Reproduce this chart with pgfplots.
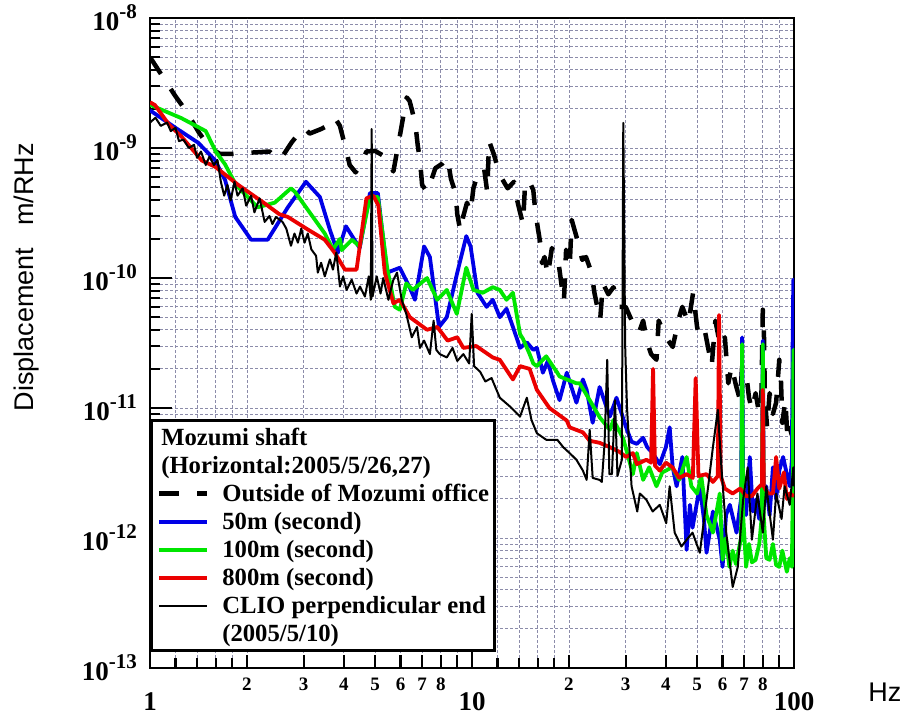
\documentclass[border=0pt]{standalone}
\usepackage{fontspec}
\setmainfont{Liberation Serif}
\setsansfont{Liberation Sans}
\usepackage{pgfplots}
\pgfplotsset{compat=1.18}

\definecolor{gridc}{RGB}{140,140,170}
\definecolor{b50}{RGB}{0,0,230}
\definecolor{g100}{RGB}{0,230,0}
\definecolor{r800}{RGB}{235,0,0}

% power-of-ten tick label with a raised exponent
\newcommand{\tenexp}[1]{10\raisebox{12pt}{\fontsize{21}{21}\selectfont #1}}

\begin{document}
\begin{tikzpicture}
\useasboundingbox (0,0) rectangle (909pt,720pt);
\begin{axis}[
  at={(150pt,52pt)}, anchor=south west,
  scale only axis, width=644pt, height=650pt,
  xmode=log, ymode=log,
  xmin=1, xmax=100, ymin=1e-13, ymax=1e-8,
  axis line style={line width=2.5pt},
  tick align=inside, xtick pos=left, ytick pos=left,
  every tick/.style={black, line width=2.2pt},
  major tick length=22pt, minor tick length=10pt,
  xtick={1,10,100}, xticklabels={1,10,100},
  minor xtick={1.2,1.4,1.6,1.8,12,14,16,18},
  extra x ticks={2,3,4,5,6,7,8,9,20,30,40,50,60,70,80,90},
  extra x tick labels={2,3,4,5,6,7,8,,2,3,4,5,6,7,8,},
  extra x tick style={grid=major, major tick length=13pt,
    tick label style={font=\fontsize{19}{19}\selectfont\bfseries, yshift=14pt}},
  xticklabel style={anchor=north, inner sep=0pt, yshift=-24pt},
  ytick={1e-13,1e-12,1e-11,1e-10,1e-9,1e-8},
  yticklabels={\tenexp{-13},\tenexp{-12},\tenexp{-11},\tenexp{-10},\tenexp{-9},\tenexp{-8}},
  minor ytick={2e-13,3e-13,4e-13,5e-13,6e-13,7e-13,8e-13,9e-13,
               2e-12,3e-12,4e-12,5e-12,6e-12,7e-12,8e-12,9e-12,
               2e-11,3e-11,4e-11,5e-11,6e-11,7e-11,8e-11,9e-11,
               2e-10,3e-10,4e-10,5e-10,6e-10,7e-10,8e-10,9e-10,
               2e-9,3e-9,4e-9,5e-9,6e-9,7e-9,8e-9,9e-9},
  yticklabel style={anchor=east, inner sep=0pt, xshift=-13pt},
  tick label style={font=\fontsize{27}{27}\selectfont\bfseries},
  grid=both,
  major grid style={gridc, line width=0.8pt, dash pattern=on 3pt off 2pt},
  minor grid style={gridc, line width=0.8pt, dash pattern=on 3pt off 2pt},
  ylabel={Displacement\hspace{22pt}m/RHz},
  ylabel style={font=\fontsize{27}{27}\selectfont\sffamily,
    at={(axis description cs:-0.191,0.6015)}, anchor=center},
  xlabel={Hz},
  xlabel style={font=\fontsize{27}{27}\selectfont\sffamily,
    at={(axis description cs:1.141,-0.037)}, anchor=center},
  legend style={at={(axis description cs:0,0.0246)}, anchor=south west,
    draw=black, line width=2.6pt, fill=white,
    font=\fontsize{24.7}{28}\selectfont\bfseries,
    inner xsep=5.5pt, inner ysep=4pt, row sep=2pt, column sep=13pt,
    nodes={inner sep=0pt, text height=21pt, text depth=5pt}},
  legend cell align=left,
  legend image code/.code={\draw[#1] (0pt,0pt) -- (48pt,0pt);},
  every axis plot/.append style={line join=round},
]
\addlegendimage{empty legend}
\addlegendentry{\hspace*{-61pt}Mozumi shaft}
\addlegendimage{empty legend}
\addlegendentry{\hspace*{-61pt}(Horizontal:2005/5/26,27)}

% outside of the Mozumi office
\addplot[black, line width=4.5pt, dash pattern=on 20pt off 18pt] coordinates {
(1,5.0e-9) (1.09,3.6e-9) (1.2,2.5e-9) (1.3,1.9e-9) (1.42,1.31e-9) (1.54,1.0e-9)
(1.65,9.0e-10) (1.78,9.0e-10) (2.03,9.2e-10) (2.2,9.3e-10) (2.35,9.4e-10)
(2.52,8.1e-10) (2.6,8.9e-10) (2.75,1.1e-9) (2.88,1.27e-9) (3.02,1.43e-9)
(3.13,1.29e-9) (3.4,1.4e-9) (3.62,1.52e-9) (3.75,1.71e-9) (3.89,1.48e-9)
(4.05,1.0e-9) (4.17,7.4e-10) (4.35,6.5e-10) (4.51,7.4e-10) (4.7,9.4e-10)
(5.0,9.5e-10) (5.36,8.6e-10) (5.7,6.6e-10) (5.85,9.4e-10) (5.99,1.3e-9)
(6.13,1.8e-9) (6.27,2.45e-9) (6.4,2.3e-9) (6.52,1.93e-9) (6.68,1.48e-9)
(6.78,1.06e-9) (6.9,7.9e-10) (7.0,5.2e-10) (7.25,4.6e-10) (7.5,5.8e-10)
(7.7,7.0e-10) (8.1,7.6e-10) (8.4,8.4e-10) (8.6,5.8e-10) (8.9,4.45e-10)
(9.0,3.1e-10) (9.2,2.3e-10) (9.4,3.0e-10) (9.65,3.8e-10) (9.9,3.2e-10)
(10.1,4.9e-10) (10.4,6.2e-10) (10.9,7.0e-10) (11.15,4.6e-10) (11.3,1.13e-9)
(11.7,8.9e-10) (12.2,6.2e-10) (12.9,4.9e-10) (13.5,5.5e-10) (13.8,4.0e-10)
(14.1,3.2e-10) (14.4,2.6e-10) (14.6,5.0e-10) (15.0,5.7e-10) (15.5,4.75e-10)
(15.7,3.4e-10) (16.0,2.45e-10) (16.3,1.85e-10) (16.5,1.3e-10) (16.8,1.45e-10)
(17.2,1.05e-10) (17.7,1.7e-10) (18.5,1.4e-10) (19.0,8.6e-11) (19.3,6.6e-11)
(19.6,1.65e-10) (20.1,1.2e-10) (20.4,2.8e-10) (21.2,2.0e-10) (22.0,1.38e-10)
(22.6,1.45e-10) (23.5,1.1e-10) (24.0,7.7e-11) (24.5,6.0e-11) (25.0,4.75e-11)
(25.5,9.1e-11) (26.5,7.5e-11) (27.5,8.5e-11) (28.7,6.0e-11) (30.0,6.0e-11)
(31.0,5.0e-11) (32.0,4.2e-11) (33.0,3.8e-11) (34.0,4.7e-11) (35.0,3.2e-11)
(36.0,2.6e-11) (37.4,2.35e-11) (38.0,4.7e-11) (40.0,3.5e-11) (42.0,2.95e-11)
(44.0,5.0e-11) (45.0,6.0e-11) (47.0,4.5e-11) (48.6,7.7e-11) (50.0,4.2e-11)
(51.0,3.4e-11) (53.0,3.8e-11) (55.5,2.1e-11) (57.0,4.7e-11) (59.0,3.0e-11)
(61.0,3.5e-11) (62.5,1.55e-11) (64.0,2.1e-11) (66.0,1.5e-11) (68.0,1.15e-11)
(69.0,2.1e-11) (71.0,1.87e-11) (72.5,1.2e-11) (74.0,9.7e-12) (76.0,1.3e-11)
(78.0,9.0e-12) (79.2,1.2e-11) (80.0,5.7e-11) (80.6,4.2e-11) (81.2,1.2e-11)
(82.5,7.1e-12) (84.0,1.3e-11) (86.0,9.0e-12) (88.0,1.1e-11) (90.0,2.35e-11)
(91.0,1.75e-11) (92.0,7.7e-12) (94.0,1.15e-11) (95.5,5.7e-12) (97.0,7.0e-12)
(100,5.5e-12)
};
\addlegendentry{Outside of Mozumi office}

% 50 m depth
\addplot[b50, line width=3.8pt] coordinates {
(1,1.95e-9) (1.2,1.43e-9) (1.41,1.1e-9) (1.59,8.1e-10) (1.71,5.7e-10)
(1.84,2.95e-10) (2.06,1.97e-10) (2.32,1.97e-10) (2.68,3.5e-10) (3.05,5.5e-10)
(3.37,4.2e-10) (3.62,2.35e-10) (3.83,1.56e-10) (4.06,2.5e-10) (4.48,1.7e-10)
(4.82,4.5e-10) (5.1,4.5e-10) (5.45,1.1e-10) (5.97,1.2e-10) (6.4,8.5e-11)
(6.65,6.8e-11) (7.1,1.75e-10) (7.4,1.45e-10) (7.9,4.2e-11) (8.35,5.0e-11)
(9.0,1.1e-10) (9.6,2.1e-10) (9.9,1.75e-10) (10.4,7.7e-11) (11.1,6.0e-11)
(11.6,6.8e-11) (12.2,5.0e-11) (12.8,5.8e-11) (13.4,4.2e-11) (14.1,2.9e-11)
(14.8,3.2e-11) (15.5,2.8e-11) (15.9,2.9e-11) (16.6,1.87e-11) (17.2,2.3e-11)
(17.8,1.66e-11) (18.7,1.15e-11) (19.7,1.87e-11) (21.1,1.1e-11) (22.1,1.66e-11)
(22.7,1.38e-11) (23.7,7.7e-12) (24.9,1.45e-11) (26.8,8.6e-12) (28.1,1.2e-11)
(30.1,7.1e-12) (31.3,5.5e-12) (32.5,5.3e-12) (34,5.9e-12) (35,5.0e-12)
(36.4,4.5e-12) (38.3,3.7e-12) (40,5.0e-12) (41.1,7.1e-12) (42,3.5e-12)
(43.2,2.5e-12) (45,4.2e-12) (46.4,8.1e-13) (47.5,1.8e-12) (48.4,1.2e-12)
(51,2.5e-12) (52.5,1.4e-12) (53.5,7.7e-13) (56,1.6e-12) (58.8,9.7e-13)
(60,6.0e-13) (61.5,1.5e-12) (63.2,1.8e-12) (66.3,1.1e-12) (68.5,2.0e-12)
(69,3.5e-11) (69.5,2.5e-12) (71,1.5e-12) (72.9,4.2e-12) (74.5,1.6e-12)
(76,1.97e-12) (78,1.4e-12) (79.5,2.2e-12) (80,3.3e-11) (80.5,2.5e-12)
(82,2.5e-12) (84,1.5e-12) (86,3.5e-12) (88,2.0e-12) (90,3.3e-12)
(92.5,4.2e-12) (95,3.1e-12) (97,2.5e-12) (98.5,4.0e-12) (99,3.0e-11)
(99.5,9.7e-11) (100,9.7e-11)
};
\addlegendentry{50m (second)}

% 100 m depth
\addplot[g100, line width=3.8pt] coordinates {
(1,2.15e-9) (1.25,1.7e-9) (1.49,1.35e-9) (1.6,9.4e-10) (1.71,7.5e-10)
(1.85,5.2e-10) (2.16,3.5e-10) (2.44,3.8e-10) (2.74,4.9e-10) (2.82,4.6e-10)
(3.16,3.1e-10) (3.49,2.2e-10) (3.7,1.66e-10) (3.89,2.0e-10) (3.94,1.64e-10)
(4.24,1.97e-10) (4.48,1.75e-10) (4.82,4.2e-10) (5.1,4.2e-10) (5.45,1.2e-10)
(5.76,6.0e-11) (5.97,5.7e-11) (6.25,9.1e-11) (6.55,8.1e-11) (7.25,1.0e-10)
(7.8,6.8e-11) (8.35,8.1e-11) (8.97,5.3e-11) (9.6,1.2e-10) (10.1,8.1e-11)
(10.8,7.7e-11) (11.6,8.5e-11) (12.2,8.1e-11) (12.8,6.8e-11) (13.4,7.7e-11)
(14.1,3.7e-11) (14.4,3.4e-11) (15.1,2.6e-11) (15.5,2.2e-11) (15.9,2.1e-11)
(17,2.5e-11) (18.4,1.87e-11) (18.7,1.75e-11) (19.7,1.66e-11) (21.1,1.55e-11)
(21.6,1.55e-11) (23.2,1.15e-11) (24.9,8.5e-12) (26.8,6.8e-12) (27.5,8.1e-12)
(29.5,5.8e-12) (31.6,3.1e-12) (32.5,4.5e-12) (34,2.8e-12) (35.5,3.5e-12)
(37.4,2.5e-12) (39,3.2e-12) (41.9,3.5e-12) (44,2.8e-12) (46.4,4.2e-12)
(48,2.5e-12) (50,2.2e-12) (51.5,3.0e-12) (53.5,1.5e-12) (56,1.1e-12)
(58.8,2.2e-12) (60,6.8e-13) (61.5,1.0e-12) (63,6.0e-13) (64.5,8.0e-13)
(66,6.3e-13) (68.5,1.0e-12) (69,3.1e-11) (69.5,1.5e-12) (71,6.0e-13)
(72.5,9.0e-13) (74,6.5e-13) (76,6.8e-13) (78,9.0e-13) (79.5,1.5e-12)
(80,3.1e-11) (80.5,1.5e-12) (82,7.0e-13) (84,6.8e-13) (86,9.0e-13)
(88,6.2e-13) (90,6.0e-13) (92,8.0e-13) (95,5.5e-13) (97,7.0e-13)
(98.5,6.0e-13) (99.2,3.0e-12) (99.6,2.8e-11) (100,2.8e-11)
};
\addlegendentry{100m (second)}

% 800 m depth
\addplot[r800, line width=3.8pt] coordinates {
(1,2.25e-9) (1.036,2.14e-9) (1.144,1.52e-9) (1.25,1.23e-9) (1.45,8.0e-10)
(1.59,7.2e-10) (1.88,5.2e-10) (2.27,3.75e-10) (2.52,3.1e-10) (2.68,2.95e-10)
(3.1,2.35e-10) (3.49,1.97e-10) (3.75,1.56e-10) (4.03,1.16e-10) (4.38,1.16e-10)
(4.7,4.1e-10) (4.94,4.3e-10) (5.12,3.6e-10) (5.36,1.1e-10) (5.7,6.4e-11)
(5.97,6.8e-11) (6.41,5.0e-11) (7.25,4.0e-11) (7.8,4.2e-11) (8.4,3.3e-11)
(9.0,3.5e-11) (9.4,2.9e-11) (10.3,3.0e-11) (11.6,2.45e-11) (12.2,2.35e-11)
(13.1,1.8e-11) (13.4,1.66e-11) (14.1,2.1e-11) (15.1,2.0e-11) (15.9,1.38e-11)
(17.4,1.0e-11) (19.7,8.0e-12) (20.1,7.1e-12) (22.1,6.5e-12) (23.2,5.6e-12)
(24.9,5.4e-12) (26.8,5.0e-12) (28.7,4.6e-12) (30.1,4.2e-12) (31.6,4.5e-12)
(32.5,3.7e-12) (34.8,4.0e-12) (36.0,3.8e-12) (36.5,2.0e-11) (37.0,3.6e-12)
(38.3,3.3e-12) (40,3.8e-12) (41.9,3.5e-12) (44,2.9e-12) (46.4,3.1e-12)
(48.5,2.9e-12) (49.5,1.7e-11) (50.5,3.0e-12) (53.5,3.1e-12) (56,2.7e-12)
(58,3.0e-12) (58.5,5.2e-11) (59.2,3.0e-12) (61,2.4e-12) (64.5,2.2e-12)
(68,2.4e-12) (71,2.1e-12) (74,2.1e-12) (77,2.4e-12) (79.5,2.6e-12)
(80,1.38e-11) (80.6,2.5e-12) (83,2.2e-12) (86,2.2e-12) (88,4.2e-12)
(90,2.4e-12) (93,3.2e-12) (95,2.0e-12) (97,2.2e-12) (100,2.1e-12)
};
\addlegendentry{800m (second)}

% CLIO perpendicular end
\addplot[black, line width=2pt] coordinates {
(1,1.57e-9) (1.04,1.71e-9) (1.08,1.48e-9) (1.13,1.57e-9) (1.16,1.35e-9)
(1.2,1.43e-9) (1.23,1.13e-9) (1.27,1.16e-9) (1.32,1.0e-9) (1.37,1.06e-9)
(1.4,8.4e-10) (1.44,9.4e-10) (1.49,7.4e-10) (1.53,8.6e-10) (1.58,7.4e-10)
(1.62,8.1e-10) (1.66,5.5e-10) (1.7,4.3e-10) (1.74,5.2e-10) (1.78,3.95e-10)
(1.83,5.5e-10) (1.87,4.3e-10) (1.94,4.9e-10) (1.99,3.6e-10) (2.06,4.3e-10)
(2.11,3.2e-10) (2.19,4.1e-10) (2.27,2.7e-10) (2.35,3.0e-10) (2.4,2.6e-10)
(2.46,2.95e-10) (2.58,2.7e-10) (2.65,2.4e-10) (2.74,1.77e-10) (2.81,2.2e-10)
(2.88,1.87e-10) (2.95,2.4e-10) (3.02,1.87e-10) (3.09,2.2e-10) (3.17,1.66e-10)
(3.28,1.48e-10) (3.32,1.1e-10) (3.4,1.31e-10) (3.49,1.03e-10) (3.62,1.39e-10)
(3.7,1.16e-10) (3.79,1.57e-10) (3.89,8.6e-11) (3.98,1.03e-10) (4.08,8.1e-11)
(4.23,9.7e-11) (4.38,7.6e-11) (4.49,8.6e-11) (4.65,7.2e-11) (4.78,1.03e-10)
(4.85,6.8e-11) (4.88,1.4e-9) (4.91,7.2e-11) (5.06,1.03e-10) (5.2,7.6e-11)
(5.3,1.0e-10) (5.5,6.8e-11) (5.7,9.7e-11) (5.85,1.1e-10) (6.05,6.8e-11)
(6.25,5.3e-11) (6.5,3.5e-11) (6.75,4.2e-11) (6.89,2.9e-11) (7.1,3.3e-11)
(7.4,2.6e-11) (7.6,4.7e-11) (7.75,2.8e-11) (7.94,2.6e-11) (8.35,2.45e-11)
(8.7,2.9e-11) (9.0,2.3e-11) (9.4,2.6e-11) (9.8,2.2e-11) (9.98,5.3e-11)
(10.15,2.1e-11) (10.6,1.9e-11) (11.0,1.6e-11) (11.5,1.7e-11) (12.2,1.2e-11)
(13.1,1.03e-11) (14.1,8.6e-12) (14.8,1.2e-11) (15.3,8.1e-12) (15.9,6.4e-12)
(17.0,5.7e-12) (18.4,5.7e-12) (19.2,5.0e-12) (20.1,4.5e-12) (21.1,4.0e-12)
(22.1,3.3e-12) (22.7,2.8e-12) (23.2,6.8e-12) (23.7,2.9e-12) (24.9,2.8e-12)
(25.3,2.7e-12) (25.8,5.3e-12) (26.3,2.35e-11) (26.7,3.1e-12) (27.2,3.1e-12)
(27.8,1.15e-11) (28.3,3.0e-12) (29.2,4.0e-12) (29.5,1.56e-9) (29.9,3.0e-11)
(30.3,1.0e-11) (31.3,2.5e-12) (32.6,1.6e-12) (33.2,2.2e-12) (34.8,1.97e-12)
(36.4,1.6e-12) (38.3,1.8e-12) (40.1,1.3e-12) (41.1,2.5e-12) (42.6,1.1e-12)
(44.7,8.6e-13) (46.4,9.7e-13) (48.4,1.1e-12) (51,7.7e-13) (53.5,1.97e-12)
(56,5.0e-12) (58,9.7e-12) (59.5,3.5e-12) (61.6,1.1e-12) (64.5,4.2e-13)
(66.9,6.0e-13) (69.5,1.97e-12) (71.8,3.5e-12) (74,9.7e-13) (77,2.2e-12)
(80,1.1e-12) (82,2.5e-12) (86,9.7e-13) (88,2.2e-12) (91.5,1.4e-12)
(93.5,2.5e-12) (97,1.8e-12) (99.5,3.5e-12) (100,2.5e-12)
};
\addlegendentry{CLIO perpendicular end}
\addlegendimage{empty legend}
\addlegendentry{(2005/5/10)}
\end{axis}
\end{tikzpicture}
\end{document}
